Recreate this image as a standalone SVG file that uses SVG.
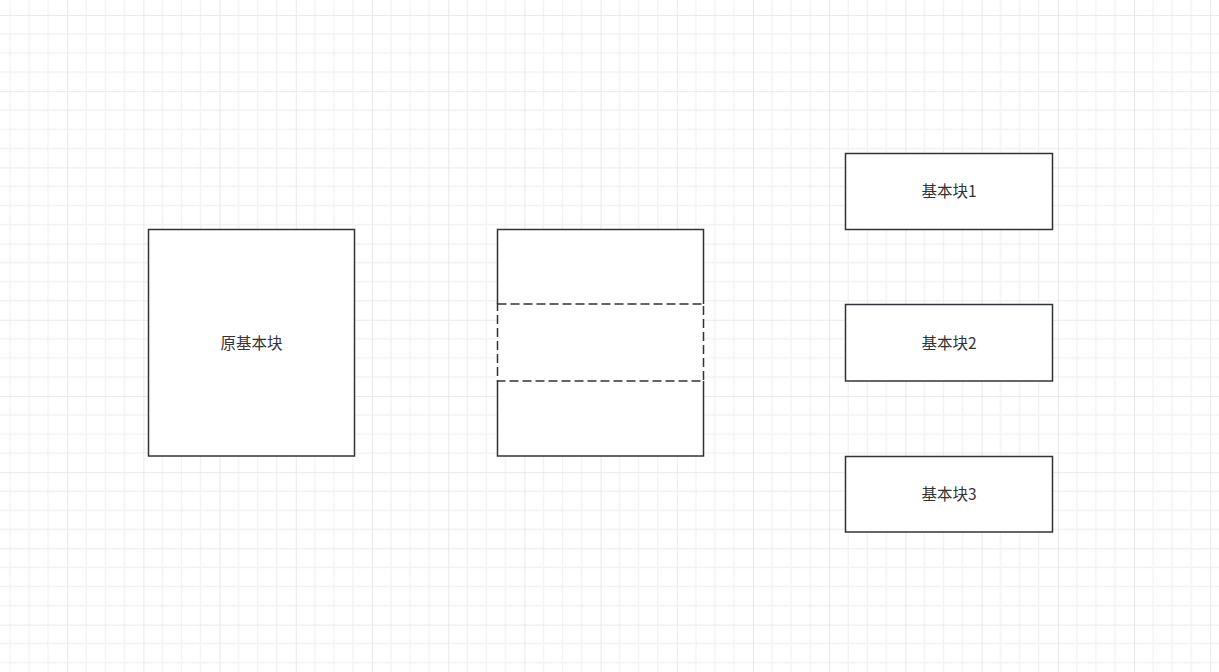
<svg xmlns="http://www.w3.org/2000/svg" width="1219" height="672" viewBox="0 0 1219 672">
<style>
  .box { fill: #ffffff; stroke: #2f3338; stroke-width: 1.5; }
  .edge { fill: none; stroke: #2f3338; stroke-width: 1.5; }
  .dash { fill: #ffffff; stroke: #2f3338; stroke-width: 1.5; stroke-dasharray: 9 4; }
  .label { font-family: "Noto Sans CJK SC", "Noto Sans", sans-serif; font-size: 15.5px; fill: #333333; text-anchor: middle; }
</style>
<defs>
  <pattern id="grid" x="67.2" y="91.2" width="76.2" height="76.2" patternUnits="userSpaceOnUse">
    <path d="M19.05 0V76.2M38.1 0V76.2M57.15 0V76.2M0 19.05H76.2M0 38.1H76.2M0 57.15H76.2" fill="none" stroke="#f2f2f2" stroke-width="1.3"/>
    <path d="M0 0V76.2M0 0H76.2" fill="none" stroke="#e4e4e4" stroke-width="1.6"/>
  </pattern>
</defs>
<rect width="1219" height="672" fill="#ffffff"/>
<rect width="1219" height="672" fill="url(#grid)"/>
<g id="connectors"></g>
<g id="original-block">
  <rect class="box" x="148.5" y="229.5" width="206" height="226.5"/>
  <text class="label" x="251.5" y="348.5">原基本块</text>
</g>
<g id="split-block">
  <rect x="497.5" y="229.5" width="206" height="226.5" fill="#ffffff"/>
  <path class="edge" d="M497.5 304V229.5H703.5V304"/>
  <path class="edge" d="M497.5 381V456H703.5V381"/>
  <rect class="dash" x="497.5" y="304" width="206" height="77"/>
</g>
<g id="block1">
  <rect class="box" x="845.5" y="153.5" width="207" height="76"/>
  <text class="label" x="949" y="197">基本块1</text>
</g>
<g id="block2">
  <rect class="box" x="845.5" y="304.5" width="207" height="76.5"/>
  <text class="label" x="949" y="348.5">基本块2</text>
</g>
<g id="block3">
  <rect class="box" x="845.5" y="456.5" width="207" height="75.5"/>
  <text class="label" x="949" y="500">基本块3</text>
</g>
</svg>
